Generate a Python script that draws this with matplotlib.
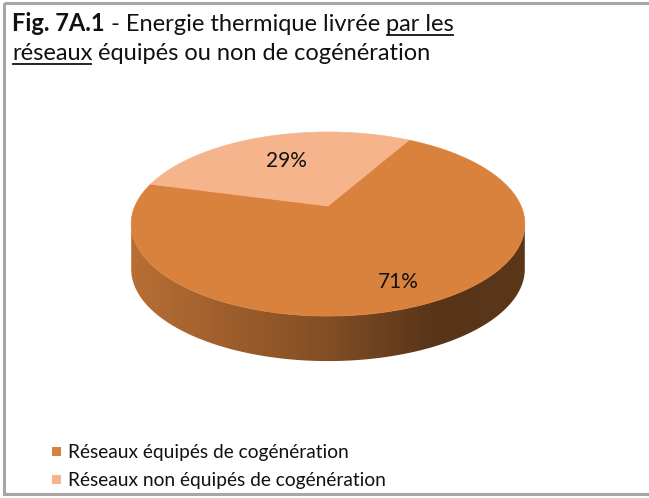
import numpy as np
import matplotlib
matplotlib.use("Agg")
import matplotlib.pyplot as plt
from matplotlib.patches import Polygon, Rectangle
from matplotlib.colors import to_rgb

# --- data ---------------------------------------------------------------
categories = ["Réseaux équipés de cogénération",
              "Réseaux non équipés de cogénération"]
shares = [71, 29]
labels = ["71%", "29%"]
colors = ["#D9823D", "#F6B48C"]

title_bold = "Fig. 7A.1"
title_rest = " - Energie thermique livrée "
title_ul1 = "par les"
title_ul2 = "réseaux"
title_line2 = " équipés ou non de cogénération"

# --- layout (pixels) ----------------------------------------------------
W, H = 649, 498
cx, cy = 328, 206          # projected pie centre
A, B = 193, 88.5           # projected radii
k = 0.196                  # perspective factor
depth = 45                 # thickness of the pie
start_deg = 60.6           # first slice starts here, clockwise
label_r = [0.8, 0.62]

FONT = ["Lato", "DejaVu Sans"]
plt.rcParams["font.family"] = FONT

fig = plt.figure(figsize=(W / 100, H / 100), dpi=100)
ax = fig.add_axes([0, 0, 1, 1])
ax.set_xlim(0, W)
ax.set_ylim(H, 0)
ax.axis("off")


def project(r, theta_deg):
    t = np.radians(theta_deg)
    u = r * np.cos(t)
    v = -r * np.sin(t)
    w = 1 - k * v
    return cx + A * u / w, cy + B * v / w


# slice angles (clockwise from start)
bounds = [start_deg]
for s in shares:
    bounds.append(bounds[-1] - 360 * s / sum(shares))

# visible side: between the two horizontal extremes of the rim
vis_lo = 180 + np.degrees(np.arcsin(k))
vis_hi = 360 - np.degrees(np.arcsin(k))

for i, col in enumerate(colors):
    a0, a1 = bounds[i + 1], bounds[i]
    # side part of this slice
    for off in (-360, 0, 360):
        lo = max(a0 + off, vis_lo)
        hi = min(a1 + off, vis_hi)
        if hi <= lo:
            continue
        th = np.linspace(lo, hi, 200)
        xs, ys = project(1, th)
        px = np.concatenate([xs, xs[::-1]])
        py = np.concatenate([ys, ys[::-1] + depth])
        poly = Polygon(np.c_[px, py], closed=True, facecolor="none",
                       edgecolor="none")
        ax.add_patch(poly)
        x0, x1 = cx - A * 1.03, cx + A * 1.03
        gx = np.linspace(0, 1, 300)
        shade = np.interp(gx, [0, 0.5, 0.77, 1], [0.85, 0.6, 0.4, 0.42])
        rgb = np.array(to_rgb(col))
        img = (shade[:, None] * rgb[None, :])[None, :, :]
        im = ax.imshow(img, extent=[x0, x1, ys.max() + depth + 2, ys.min() - 2],
                       aspect="auto", zorder=1, interpolation="bilinear")
        im.set_clip_path(poly)

    # top surface of the slice
    th = np.linspace(a0, a1, 300)
    xs, ys = project(1, th)
    pts = np.c_[np.r_[cx, xs], np.r_[cy, ys]]
    ax.add_patch(Polygon(pts, closed=True, facecolor=col, edgecolor=col,
                         linewidth=0.5, zorder=2))

    mid = (a0 + a1) / 2
    lx, ly = project(label_r[i], mid)
    ax.text(lx, ly, labels[i], ha="center", va="center", fontsize=15,
            color="#111111", zorder=3)

# outer frame
ax.add_patch(Rectangle((4, 3), W + 10, 491, fill=False, edgecolor="#A6A6A6",
                       linewidth=2.2, zorder=5))

# --- title with underlined words ---------------------------------------
fig.canvas.draw()
renderer = fig.canvas.get_renderer()
inv = ax.transData.inverted()
tsize = 17


def put(x, y, s, weight="normal", underline=False):
    t = ax.text(x, y, s, fontsize=tsize, fontweight=weight, ha="left",
                va="baseline", color="#111111")
    bb = t.get_window_extent(renderer)
    (bx0, _), (bx1, _) = inv.transform([[bb.x0, bb.y0], [bb.x1, bb.y1]])
    if underline:
        ax.plot([bx0 + 1, bx1 - 1], [y + 4, y + 4], color="#111111", lw=1.3)
    return bx1


y1, y2 = 31, 60
x = put(12, y1, title_bold, weight="bold")
x = put(x, y1, title_rest)
put(x, y1, title_ul1, underline=True)
x = put(12, y2, title_ul2, underline=True)
put(x, y2, title_line2)

# --- legend -------------------------------------------------------------
for i, (cat, col) in enumerate(zip(categories, colors)):
    ly = 452 + 28 * i
    ax.add_patch(Rectangle((52, ly - 5), 9, 9, facecolor=col, edgecolor="none"))
    ax.text(68, ly, cat, fontsize=13.8, va="center", ha="left", color="#111111")

fig.savefig("out.png", dpi=100)
